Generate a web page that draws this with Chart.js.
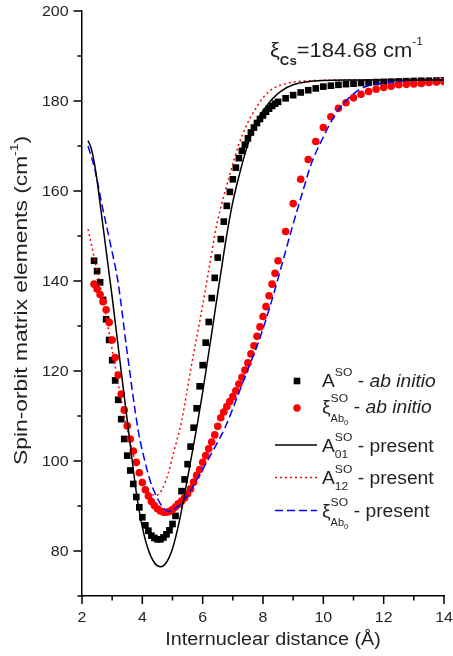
<!DOCTYPE html>
<html>
<head>
<meta charset="utf-8">
<script src="https://cdn.jsdelivr.net/npm/chart.js"></script>
<style>
  html, body { margin: 0; padding: 0; background: #fff; }
  #wrap { width: 453px; height: 656px; }
</style>
</head>
<body>
<div id="wrap"><canvas id="grafico" width="453" height="656"></canvas></div>
<script>
// rotulos dos eixos
const rotulosX = [2, 4, 6, 8, 10, 12, 14];
const rotulosY = [80, 100, 120, 140, 160, 180, 200];

// A^SO - ab initio (quadrados pretos)
const abAX = [2.4, 2.5, 2.6, 2.7, 2.8, 2.9, 3.0, 3.1, 3.2, 3.3, 3.4, 3.5, 3.6, 3.7, 3.8, 3.9,
  4.0, 4.1, 4.2, 4.3, 4.4, 4.5, 4.6, 4.7, 4.8, 4.9, 5.0, 5.1, 5.2, 5.3, 5.4, 5.5, 5.6, 5.7, 5.8, 5.9,
  6.0, 6.1, 6.2, 6.3, 6.4, 6.5, 6.6, 6.7, 6.8, 6.9, 7.0, 7.1, 7.2, 7.3, 7.4, 7.5, 7.6, 7.7, 7.8, 7.9,
  8.0, 8.1, 8.2, 8.3, 8.4, 8.5, 8.75, 9.0, 9.25, 9.5, 9.75, 10.0, 10.25, 10.5, 10.75, 11.0, 11.25,
  11.5, 11.75, 12.0, 12.25, 12.5, 12.75, 13.0, 13.25, 13.5, 13.75, 14.0];
const abAY = [144.5, 142.2, 139.7, 135.8, 131.5, 126.9, 122.4, 117.9, 113.6, 109.3, 104.9, 101.2, 97.9, 94.9, 92.0, 89.7,
  87.5, 85.7, 84.5, 83.4, 82.9, 82.6, 82.6, 83.0, 83.7, 84.6, 86.0, 87.8, 90.4, 93.3, 95.9, 99.3, 103.2, 107.4, 111.7, 116.6,
  121.3, 126.3, 130.9, 136.2, 140.7, 145.2, 149.3, 153.2, 156.7, 159.8, 162.6, 165.2, 167.3, 168.9, 170.3, 171.7, 173.0, 174.1, 175.1, 176.0,
  176.8, 177.6, 178.3, 178.9, 179.4, 179.8, 180.6, 181.3, 181.9, 182.4, 182.8, 183.2, 183.4, 183.6, 183.75, 183.85, 184.0,
  184.1, 184.2, 184.25, 184.3, 184.35, 184.4, 184.45, 184.5, 184.5, 184.55, 184.6];

// xi^SO_Ab0 - ab initio (circulos vermelhos)
const abXiX = [2.4, 2.5, 2.6, 2.7, 2.8, 2.9, 3.0, 3.1, 3.2, 3.3, 3.4, 3.5, 3.6, 3.7, 3.8, 3.9,
  4.0, 4.1, 4.2, 4.3, 4.4, 4.5, 4.6, 4.7, 4.8, 4.9, 5.0, 5.1, 5.2, 5.3, 5.4, 5.5, 5.6, 5.7, 5.8, 5.9,
  6.0, 6.1, 6.2, 6.3, 6.4, 6.5, 6.6, 6.7, 6.8, 6.9, 7.0, 7.1, 7.2, 7.3, 7.4, 7.5, 7.6, 7.7, 7.8, 7.9,
  8.0, 8.1, 8.2, 8.3, 8.4, 8.5, 8.75, 9.0, 9.25, 9.5, 9.75, 10.0, 10.25, 10.5, 10.75, 11.0, 11.25,
  11.5, 11.75, 12.0, 12.25, 12.5, 12.75, 13.0, 13.25, 13.5, 13.75, 14.0];
const abXiY = [139.3, 138.2, 137.0, 135.4, 133.6, 130.8, 126.9, 123.0, 119.1, 114.9, 111.3, 107.8, 104.9, 102.2, 99.7, 97.4,
  95.2, 93.6, 92.2, 91.0, 90.1, 89.4, 88.9, 88.6, 88.6, 88.8, 89.2, 89.8, 90.5, 91.1, 91.8, 92.7, 93.8, 95.3, 96.8, 98.1,
  99.7, 101.2, 102.7, 104.2, 105.8, 107.7, 109.6, 110.9, 112.1, 113.2, 114.3, 115.6, 117.1, 118.6, 120.2, 121.8, 123.8, 125.6, 127.7, 129.8,
  132.1, 134.3, 136.7, 139.3, 141.7, 144.5, 151.0, 157.2, 162.6, 167.0, 171.0, 174.1, 176.5, 178.4, 179.6, 180.7, 181.5,
  182.1, 182.6, 183.0, 183.3, 183.6, 183.7, 183.8, 183.9, 184.1, 184.2, 184.3];

// A^SO_01 - present (linha preta)
const a01X = [2.2, 2.3, 2.4, 2.5, 2.6, 2.8, 3.0, 3.2, 3.4, 3.6, 3.8, 4.0, 4.2, 4.4, 4.6, 4.8, 5.0, 5.2, 5.4, 5.6,
  5.8, 6.0, 6.2, 6.4, 6.6, 6.8, 7.0, 7.2, 7.4, 7.6, 7.8, 8.0, 8.3, 8.6, 9.0, 9.5, 10, 11, 12, 14];
const a01Y = [171.2, 169.6, 166.6, 162.3, 157.2, 146.8, 136.4, 125.4, 114.4, 103.6, 93.0, 85.3, 80.2, 77.4, 76.5, 77.5, 80.5, 85.8, 92.6, 99.9,
  107.3, 115.3, 124.0, 132.9, 141.7, 150.3, 157.6, 163.2, 168.2, 172.4, 175.6, 177.8, 180.4, 182.2, 183.6, 184.3, 184.55, 184.65, 184.68, 184.68];

// A^SO_12 - present (pontilhado vermelho)
const a12X = [2.2, 2.3, 2.4, 2.54, 2.7, 2.9, 3.1, 3.3, 3.5, 3.7, 3.9, 4.1, 4.3, 4.47, 4.65, 4.86, 5.05, 5.3, 5.6,
  5.91, 6.2, 6.46, 6.7, 6.91, 7.18, 7.51, 7.73, 8.01, 8.34, 8.78, 9.3, 10, 11, 14];
const a12Y = [151.5, 148.5, 145.3, 141.0, 135.8, 128.5, 121.0, 113.6, 107.0, 101.5, 97.0, 94.0, 92.6, 92.4, 93.6, 97.3, 102.2, 108.8, 120.2,
  131.3, 142.3, 152.3, 158.9, 163.9, 170.0, 175.4, 178.0, 180.8, 182.8, 183.9, 184.4, 184.6, 184.68, 184.68];

// xi^SO_Ab0 - present (tracejado azul)
const xiX = [2.2, 2.43, 2.65, 2.93, 3.2, 3.48, 3.87, 4.05, 4.25, 4.47, 4.69, 4.86, 5.14, 5.47, 5.91, 6.35, 6.74,
  7.18, 7.5, 7.87, 8.23, 8.6, 8.95, 9.3, 9.61, 10.0, 10.3, 10.55, 10.9, 11.21, 11.5, 11.88, 12.5, 13.0, 14.0];
const xiY = [170.0, 164.7, 157.3, 148.6, 139.5, 125.0, 106.5, 100.9, 95.8, 92.1, 89.6, 88.8, 89.7, 92.1, 97.1, 102.4, 107.4,
  114.8, 120.4, 126.8, 134.3, 143.0, 151.5, 159.5, 166.2, 172.0, 175.9, 178.5, 181.0, 182.6, 183.4, 183.9, 184.4, 184.6, 184.68];

const FONTE = '"Liberation Sans", Arial, Helvetica, sans-serif';
const COR_TEXTO = '#231f20';
const ESTICA = 1.1; // o texto original e um pouco mais largo que Arial

function pares(xs, ys) {
  return xs.map((x, i) => ({ x: x, y: ys[i] }));
}

// escreve texto esticado na horizontal, devolve a largura
function escreve(ctx, s, x, y, tam, opt = {}) {
  const k = opt.estica || ESTICA;
  ctx.save();
  ctx.font = (opt.italico ? 'italic ' : '') + (opt.negrito ? 'bold ' : '') + tam + 'px ' + FONTE;
  const w = ctx.measureText(s).width * k;
  if (!opt.medir) {
    let x0 = x;
    if (opt.align === 'center') x0 = x - w / 2;
    else if (opt.align === 'right') x0 = x - w;
    ctx.fillStyle = COR_TEXTO;
    ctx.textAlign = 'left';
    ctx.textBaseline = 'alphabetic';
    ctx.translate(x0, y);
    ctx.scale(k, 1);
    ctx.fillText(s, 0, 0);
  }
  ctx.restore();
  return w;
}

// texto com indices: {t, tam} ou {sup, sub, sub2}
function escreveRico(ctx, partes, x, y, medir, estica) {
  let cx = x;
  for (const p of partes) {
    if (p.t !== undefined) {
      cx += escreve(ctx, p.t, cx, y, p.tam, { italico: p.italico, negrito: p.negrito, medir: medir, estica: estica });
    } else {
      let w1 = 0, w2 = 0;
      if (p.sup) w1 = escreve(ctx, p.sup, cx, y - (p.supDy || 10), p.supTam || 11, { medir: medir, estica: estica });
      if (p.sub) {
        w2 = escreve(ctx, p.sub, cx, y + (p.subDy || 6), p.subTam || 11, { negrito: p.subNegrito, medir: medir, estica: estica });
        if (p.sub2) w2 += escreve(ctx, p.sub2, cx + w2, y + (p.subDy || 6) + 3, 7, { medir: medir, estica: estica });
      }
      cx += Math.max(w1, w2);
    }
  }
  return cx - x;
}

const marcasEixos = {
  id: 'marcasEixos',
  afterDraw(chart) {
    const ctx = chart.ctx;
    const sx = chart.scales.x, sy = chart.scales.y;
    const base = sy.getPixelForValue(sy.min);
    const esq = sx.getPixelForValue(sx.min);
    ctx.save();
    ctx.strokeStyle = '#000';
    ctx.lineWidth = 1.5;
    sx.ticks.forEach(t => {
      const px = sx.getPixelForValue(t.value);
      const len = rotulosX.includes(t.value) ? 8 : 4.5;
      ctx.beginPath(); ctx.moveTo(px, base); ctx.lineTo(px, base + len); ctx.stroke();
    });
    sy.ticks.forEach(t => {
      const py = sy.getPixelForValue(t.value);
      const len = rotulosY.includes(t.value) ? 8.5 : 4.5;
      ctx.beginPath(); ctx.moveTo(esq, py); ctx.lineTo(esq - len, py); ctx.stroke();
    });
    ctx.restore();
    rotulosX.forEach(v => escreve(ctx, String(v), sx.getPixelForValue(v), base + 25.5, 14.5, { align: 'center' }));
    rotulosY.forEach(v => escreve(ctx, String(v), esq - 13.5, sy.getPixelForValue(v) + 5, 14.5, { align: 'right' }));
  }
};

const textos = {
  id: 'textos',
  afterDraw(chart) {
    const ctx = chart.ctx;
    const area = chart.chartArea;

    // titulo do eixo x
    escreve(ctx, 'Internuclear distance (\u00C5)', 273, 645, 18, { align: 'center' });

    // titulo do eixo y (rodado)
    const tituloY = [
      { t: 'Spin-orbit matrix elements (cm', tam: 19 },
      { sup: '-1', supTam: 11.5, supDy: 9 },
      { t: ')', tam: 19 }
    ];
    const kY = 1.2;
    const wY = escreveRico(ctx, tituloY, 0, 0, true, kY);
    ctx.save();
    ctx.translate(26.5, (area.top + area.bottom) / 2 - 3);
    ctx.rotate(-Math.PI / 2);
    escreveRico(ctx, tituloY, -wY / 2, 0, false, kY);
    ctx.restore();

    // anotacao xi_Cs
    escreveRico(ctx, [
      { t: '\u03BE', tam: 20 },
      { sub: 'Cs', subTam: 12, subDy: 8, subNegrito: true },
      { t: '=184.68 cm', tam: 20 },
      { sup: '-1', supTam: 11, supDy: 12 }
    ], 270, 57);

    // legenda
    const xm = 297, xl0 = 275, xl1 = 317, xt = 322;
    ctx.save();
    ctx.fillStyle = '#000';
    ctx.fillRect(xm - 3.3, 381 - 3.3, 6.6, 6.6);
    ctx.fillStyle = '#ff0000';
    ctx.beginPath(); ctx.arc(xm, 408, 3.7, 0, Math.PI * 2); ctx.fill();
    ctx.lineWidth = 1.5;
    [[445, '#000000', []], [477.5, '#ff0000', [2, 3]], [510.5, '#0000ff', [8, 4]]].forEach(([yy, cor, tr]) => {
      ctx.strokeStyle = cor;
      ctx.setLineDash(tr);
      ctx.beginPath(); ctx.moveTo(xl0, yy); ctx.lineTo(xl1, yy); ctx.stroke();
    });
    ctx.restore();

    const T = 17.5;
    escreveRico(ctx, [{ t: 'A', tam: T }, { sup: 'SO', supDy: 11 }, { t: ' - ', tam: T }, { t: 'ab initio', tam: T, italico: true }], xt, 387);
    escreveRico(ctx, [{ t: '\u03BE', tam: T }, { sup: 'SO', supDy: 11, sub: 'Ab', subTam: 10, subDy: 9, sub2: '0' }, { t: ' - ', tam: T }, { t: 'ab initio', tam: T, italico: true }], xt, 413);
    escreveRico(ctx, [{ t: 'A', tam: T }, { sup: 'SO', supDy: 11, sub: '01', subDy: 6 }, { t: ' - present', tam: T }], xt, 451.5);
    escreveRico(ctx, [{ t: 'A', tam: T }, { sup: 'SO', supDy: 11, sub: '12', subDy: 6 }, { t: ' - present', tam: T }], xt, 484);
    escreveRico(ctx, [{ t: '\u03BE', tam: T }, { sup: 'SO', supDy: 11, sub: 'Ab', subTam: 10, subDy: 9, sub2: '0' }, { t: ' - present', tam: T }], xt, 516.5);
  }
};

const ctx = document.getElementById('grafico').getContext('2d');
new Chart(ctx, {
  type: 'line',
  data: {
    datasets: [
      {
        label: 'A SO ab initio',
        data: pares(abAX, abAY),
        showLine: false,
        pointStyle: 'rect',
        pointRadius: 4.7,
        pointBackgroundColor: '#000000',
        pointBorderWidth: 0,
        order: 5
      },
      {
        label: 'xi SO Ab0 ab initio',
        data: pares(abXiX, abXiY),
        showLine: false,
        pointStyle: 'circle',
        pointRadius: 3.8,
        pointBackgroundColor: '#ff0000',
        pointBorderWidth: 0,
        order: 4
      },
      {
        label: 'xi SO Ab0 present',
        data: pares(xiX, xiY),
        borderColor: '#0000ff',
        borderWidth: 1.5,
        borderDash: [8, 4],
        pointRadius: 0,
        cubicInterpolationMode: 'monotone',
        fill: false,
        order: 3
      },
      {
        label: 'A SO 12 present',
        data: pares(a12X, a12Y),
        borderColor: '#ff0000',
        borderWidth: 1.5,
        borderDash: [2, 3],
        pointRadius: 0,
        cubicInterpolationMode: 'monotone',
        fill: false,
        order: 2
      },
      {
        label: 'A SO 01 present',
        data: pares(a01X, a01Y),
        borderColor: '#000000',
        borderWidth: 1.5,
        pointRadius: 0,
        cubicInterpolationMode: 'monotone',
        fill: false,
        order: 1
      }
    ]
  },
  options: {
    responsive: false,
    animation: false,
    layout: { padding: { top: 11, right: 9, left: 0, bottom: 0 } },
    plugins: {
      legend: { display: false },
      tooltip: { enabled: false }
    },
    scales: {
      x: {
        type: 'linear',
        min: 2,
        max: 14,
        ticks: { stepSize: 1, display: false },
        grid: { display: false },
        border: { color: '#000', width: 1.5 },
        afterFit(s) { s.height = 60; }
      },
      y: {
        type: 'linear',
        min: 70,
        max: 200,
        ticks: { stepSize: 10, display: false },
        grid: { display: false },
        border: { color: '#000', width: 1.5 },
        afterFit(s) { s.width = 82; }
      }
    }
  },
  plugins: [marcasEixos, textos]
});
</script>
</body>
</html>
